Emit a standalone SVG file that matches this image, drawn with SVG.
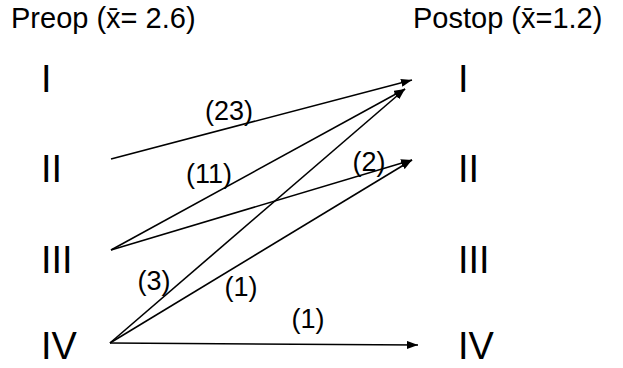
<svg xmlns="http://www.w3.org/2000/svg" width="623" height="368" viewBox="0 0 623 368">
<defs>
<style>
text{font-family:"Liberation Sans",Arial,sans-serif;fill:#000}
.h{font-size:29px}
.n{font-size:38px}
.l{font-size:27px;text-anchor:middle}
.c{stroke:#000;stroke-width:1.6;fill:none;marker-end:url(#a)}
</style>
<marker id="a" viewBox="0 0 11 8" refX="11" refY="4" markerWidth="11" markerHeight="8" markerUnits="userSpaceOnUse" orient="auto"><path d="M0,0 L11,4 L0,8 z" fill="#000"/></marker>
</defs>
<rect width="623" height="368" fill="#fff"/>
<g id="header-preop"><text class="h" x="11" y="28">Preop (x̄= 2.6)</text></g>
<g id="header-postop"><text class="h" x="413" y="28">Postop (x̄=1.2)</text></g>
<g id="pre-I"><text class="n" x="41" y="92">I</text></g>
<g id="pre-II"><text class="n" x="41" y="182">II</text></g>
<g id="pre-III"><text class="n" x="41" y="273">III</text></g>
<g id="pre-IV"><text class="n" x="41" y="359">IV</text></g>
<g id="post-I"><text class="n" x="458" y="92">I</text></g>
<g id="post-II"><text class="n" x="458" y="182">II</text></g>
<g id="post-III"><text class="n" x="458" y="273">III</text></g>
<g id="post-IV"><text class="n" x="458" y="359">IV</text></g>
<g id="connectors">
<line class="c" x1="111" y1="159" x2="412" y2="80"/>
<line class="c" x1="111" y1="250" x2="405" y2="89"/>
<line class="c" x1="110" y1="343" x2="405" y2="89"/>
<line class="c" x1="111" y1="250" x2="412" y2="160"/>
<line class="c" x1="110" y1="343" x2="412" y2="160"/>
<line class="c" x1="110" y1="343" x2="418" y2="345"/>
<text class="l" x="229" y="120">(23)</text>
<text class="l" x="209" y="183">(11)</text>
<text class="l" x="369" y="171">(2)</text>
<text class="l" x="154" y="290">(3)</text>
<text class="l" x="241" y="296">(1)</text>
<text class="l" x="308" y="328">(1)</text>
</g>
</svg>
